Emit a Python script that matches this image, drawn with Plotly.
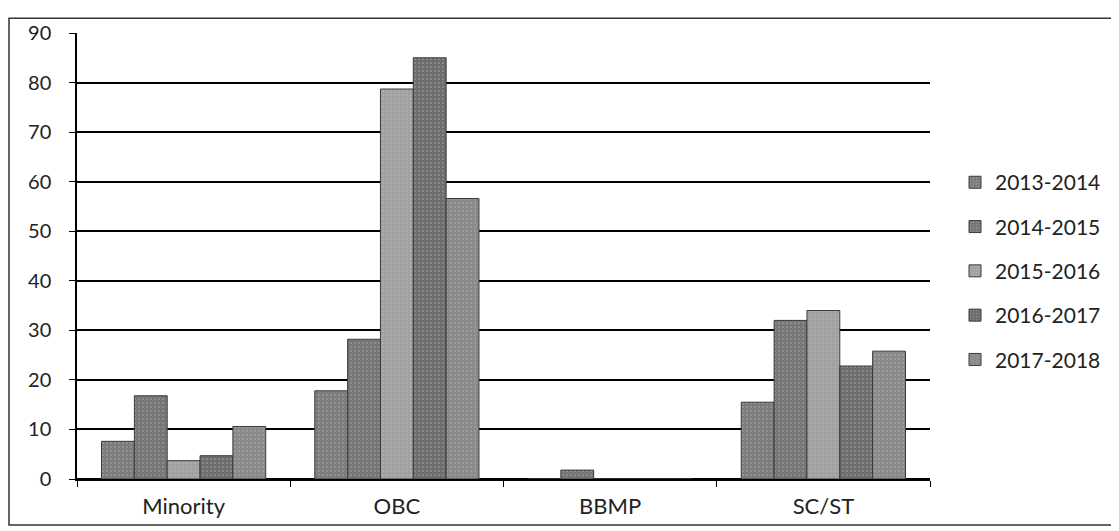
import plotly.graph_objects as go

categories = ["Minority", "OBC", "BBMP", "SC/ST"]
series_names = ["2013-2014", "2014-2015", "2015-2016", "2016-2017", "2017-2018"]
values_2013_2014 = [7.6, 17.8, 0, 15.5]
values_2014_2015 = [16.8, 28.2, 1.8, 32]
values_2015_2016 = [3.7, 78.7, 0, 34]
values_2016_2017 = [4.7, 85, 0, 22.8]
values_2017_2018 = [10.6, 56.6, 0, 25.8]
y_ticks = [0, 10, 20, 30, 40, 50, 60, 70, 80, 90]

all_values = [values_2013_2014, values_2014_2015, values_2015_2016,
              values_2016_2017, values_2017_2018]
colors = ["#7c7c7c", "#767676", "#a2a2a2", "#6e6e6e", "#8a8a8a"]

FONT = "Lato"
fig = go.Figure()
for i, (name, vals) in enumerate(zip(series_names, all_values)):
    fig.add_trace(go.Bar(
        x=categories, y=vals, name=name,
        legendgroup=name,
        marker=dict(color=colors[i], line=dict(color="#3a3a3a", width=1),
                    pattern=dict(shape=".", size=4, solidity=0.15,
                                 fgcolor="#c8c8c8", bgcolor=colors[i])),
    ))

# page has an 8px body margin: figure pixel = page pixel - 8
OFF = 8
W, H = 1119 - OFF, 531 - OFF
l, r, t, b = 77 - OFF, 189, 24 - OFF, 51
pw, ph = W - l - r, H - t - b

def px_x(p):
    return (p - OFF - l) / pw

def px_y(p):
    return (H - b - (p - OFF)) / ph

fig.update_layout(
    width=W, height=H,
    margin=dict(l=l, r=r, t=t, b=b, pad=0),
    paper_bgcolor="white", plot_bgcolor="white",
    barmode="group", bargap=0.23, bargroupgap=0,
    font=dict(family=FONT, size=20, color="#222222"),
    showlegend=True,
    legend=dict(x=px_x(955), y=px_y(156), xanchor="left", yanchor="top",
                font=dict(size=21, color="#222222"), tracegroupgap=14,
                itemwidth=30),
    xaxis=dict(showline=True, linecolor="black", linewidth=1.5,
               ticks="outside", ticklen=6, tickcolor="black",
               tickson="boundaries", showgrid=False,
               tickfont=dict(size=22), ticklabelstandoff=7),
    yaxis=dict(range=[0, 90], tickvals=y_ticks, showline=True,
               linecolor="black", linewidth=1.5, ticks="outside",
               ticklen=6, tickcolor="black", showgrid=True,
               gridcolor="black", gridwidth=1.5, zeroline=True,
               zerolinecolor="black", zerolinewidth=1.5,
               tickfont=dict(size=20), ticklabelstandoff=14),
    shapes=[dict(type="rect", xref="paper", yref="paper",
                 x0=px_x(OFF + 1), x1=px_x(1114), y0=px_y(527), y1=px_y(OFF + 1),
                 line=dict(color="#333333", width=1.5),
                 fillcolor="rgba(0,0,0,0)", layer="below")],
)

fig.write_html("out.html")
